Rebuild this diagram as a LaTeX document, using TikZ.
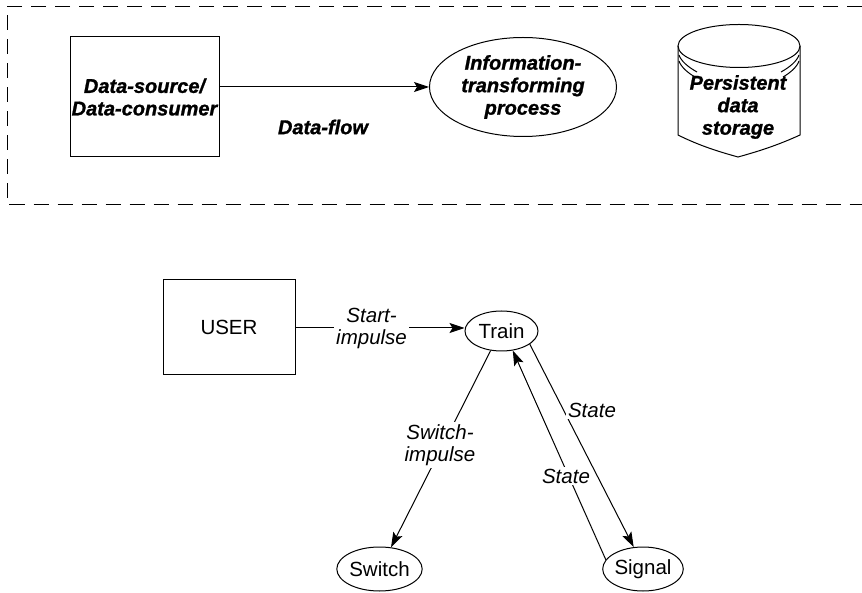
\documentclass[tikz,border=0pt]{standalone}
\usepackage{fontspec}
\setmainfont{Liberation Sans}[BoldItalicFeatures={FakeBold=1.2}]
\usetikzlibrary{shapes.geometric,arrows.meta}
\begin{document}
\begin{tikzpicture}[x=1pt,y=-1pt,
  line width=1pt,
  every node/.style={inner sep=1pt},
  big/.style={font=\fontsize{20}{22.5}\selectfont\bfseries\itshape, align=center},
  small/.style={font=\fontsize{20.5}{22}\selectfont},
  lbl/.style={font=\fontsize{20.5}{22}\selectfont\itshape, align=center, fill=white, inner sep=2pt},
  box/.style={draw, rectangle},
  oval/.style={draw, ellipse, inner sep=0pt},
  arr/.style={-{Stealth[length=15pt,width=10pt,inset=3pt]}},
  frame/.style={dash pattern=on 15pt off 9pt, line width=1pt}
]
\useasboundingbox (0,0) rectangle (862,593);

% upper legend
\draw[frame] (862,6.5) -- (7,6.5) -- (7,205) -- (862,205);

\node[box, big, minimum width=149pt, minimum height=120pt] (src) at (144.5,97)
  {Data-source/\\Data-consumer};
\node[oval, big, minimum width=187pt, minimum height=99pt] (proc) at (523,87)
  {Information-\\transforming\\process};
\draw[arr] ([yshift=10pt]src.east) -- (proc.west);
\node[big] (flow) at (323,127) {Data-flow};

% cylinder
\draw (678,46) -- (678,135) .. controls (700,146) and (720,152) .. (738,157)
      .. controls (756,152) and (776,146) .. (800,135) -- (800,46);
\draw (739,46) ellipse [x radius=61, y radius=21.5];
\draw (679,55) .. controls (681,61) and (688,67) .. (697,72);
\draw (679,61) .. controls (681,67) and (688,73) .. (695,77);
\draw (799,55) .. controls (797,61) and (790,67) .. (781,72);
\draw (799,61) .. controls (797,67) and (790,73) .. (783,77);
\node[big] (store) at (738,107) {Persistent\\data\\storage};

% lower diagram
\node[box, small, minimum width=132pt, minimum height=95pt] (user) at (229,327.5) {USER};
\node[oval, small, minimum width=73pt, minimum height=40pt] (train) at (501.5,331) {Train};
\node[oval, small, minimum width=73pt, minimum height=44pt] (switch) at (379.5,569) {Switch};
\node[oval, small, minimum width=74pt, minimum height=44pt] (signal) at (643,569) {Signal};

\draw[arr] (user.east |- 0,328) -- (train.west |- 0,328)
  node[lbl, pos=0.45] (start) {Start-\\impulse};
\draw[arr] (train.241) -- (switch.62);
\node[lbl] (swl) at (440,445) {Switch-\\impulse};
\draw[arr] (train.335) -- (signal.113);
\node[lbl] (st1) at (592,410) {State};
\draw[arr] (signal.166) -- (train.300);
\node[lbl] (st2) at (566,476) {State};
\end{tikzpicture}
\end{document}
